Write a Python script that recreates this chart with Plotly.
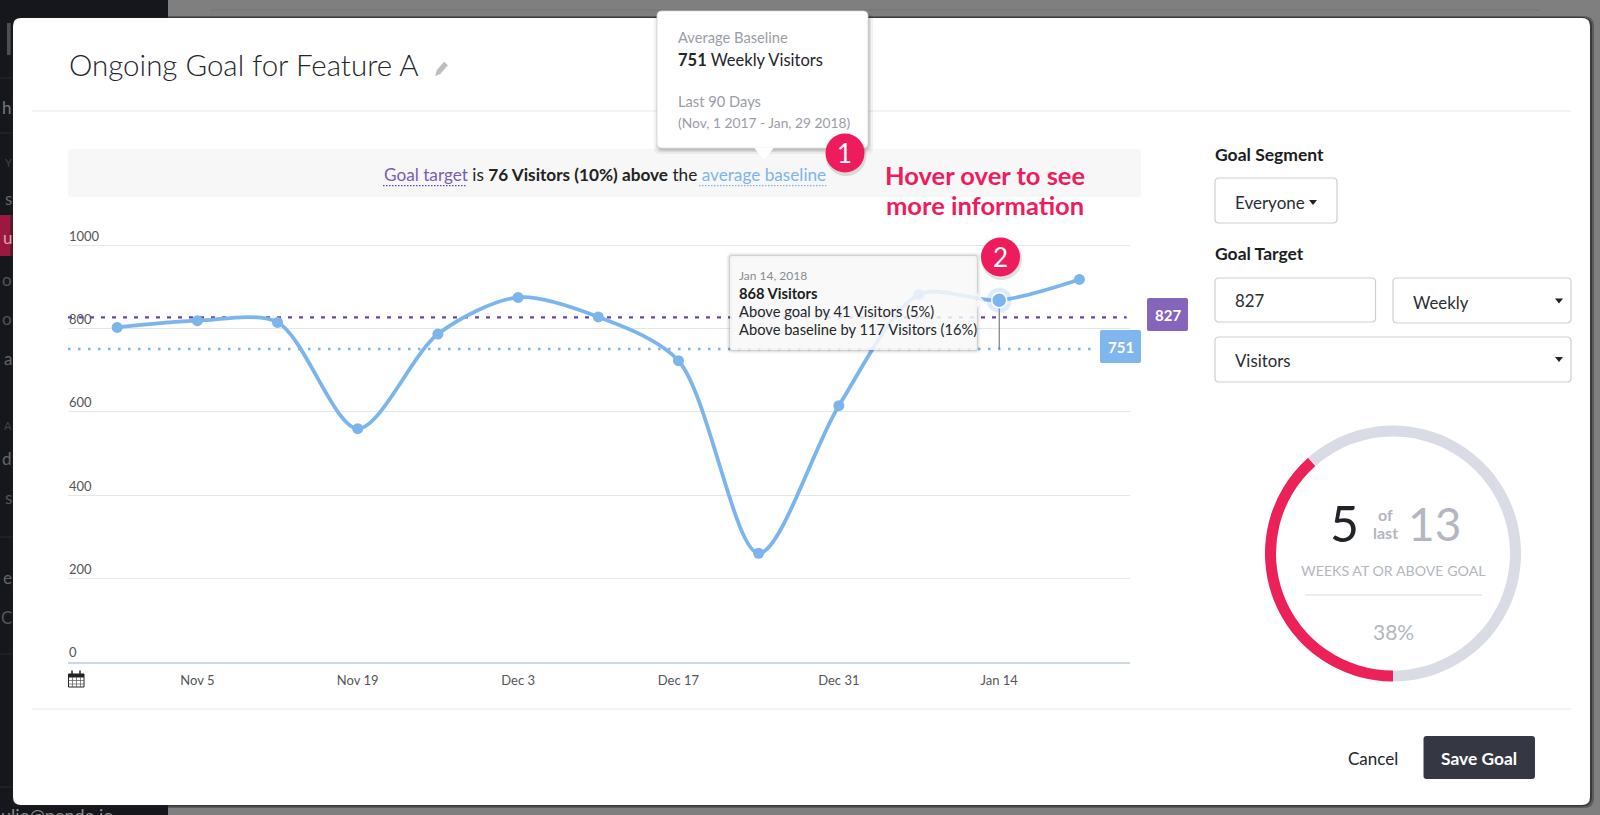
import plotly.graph_objects as go

# chart data
weeks = ["2017-10-29", "2017-11-05", "2017-11-12", "2017-11-19", "2017-11-26", "2017-12-03", "2017-12-10",
         "2017-12-17", "2017-12-24", "2017-12-31", "2018-01-07", "2018-01-14", "2018-01-21"]
visitors = [803, 819, 815, 560, 787, 875, 828, 723, 261, 615, 882, 868, 918]

goal_target = 827
avg_baseline = 751
hover_week = "2018-01-14"
hover_value = 868

x_range = ["2017-10-24 17:00", "2018-01-25 10:00"]
goal_span = ["2017-10-24 17:00", "2018-01-25 03:00"]
base_span = ["2017-10-24 17:00", "2018-01-22 05:00"]

x_tick_vals = ["2017-11-05", "2017-11-19", "2017-12-03", "2017-12-17", "2017-12-31", "2018-01-14"]
x_tick_text = ["Nov 5", "Nov 19", "Dec 3", "Dec 17", "Dec 31", "Jan 14"]
y_tick_vals = [0, 200, 400, 600, 800, 1000]

weeks_hit = [5, 8]

W = 1600
H = 815
FONT = "Lato"
BLUE = "#7cb5ec"
PURPLE = "#6a3fb5"
PINK = "#ee1c5c"
GREY_TXT = "#b4b6c0"


def px(x):
    return x / W


def py(y):
    return 1 - y / H


# rounded box as a path in paper coords, the corners done with Q
def rbox(x0, y0, x1, y1, r):
    pts = [("M", x0 + r, y0), ("L", x1 - r, y0), ("Q", x1, y0, x1, y0 + r), ("L", x1, y1 - r),
           ("Q", x1, y1, x1 - r, y1), ("L", x0 + r, y1), ("Q", x0, y1, x0, y1 - r), ("L", x0, y0 + r),
           ("Q", x0, y0, x0 + r, y0)]
    out = ""
    for p in pts:
        if p[0] == "Q":
            out += "Q%.5f,%.5f %.5f,%.5f " % (px(p[1]), py(p[2]), px(p[3]), py(p[4]))
        else:
            out += "%s%.5f,%.5f " % (p[0], px(p[1]), py(p[2]))
    return out + "Z"


def poly(points):
    out = "M" + " L".join("%.5f,%.5f" % (px(a), py(b)) for a, b in points)
    return out + " Z"


shapes = []


def box(x0, y0, x1, y1, fill, r=0, line=None, lw=1, layer="below"):
    shapes.append(dict(type="path", path=rbox(x0, y0, x1, y1, r) if r else poly([(x0, y0), (x1, y0), (x1, y1), (x0, y1)]),
                       xref="paper", yref="paper", fillcolor=fill, layer=layer,
                       line=dict(color=line if line else "rgba(0,0,0,0)", width=lw if line else 0)))


def hline(x0, x1, y, color, lw=1, layer="below", dash="solid"):
    shapes.append(dict(type="line", xref="paper", yref="paper", x0=px(x0), x1=px(x1), y0=py(y), y1=py(y),
                       line=dict(color=color, width=lw, dash=dash), layer=layer))


def seg(x0, y0, x1, y1, color, lw=1, layer="below"):
    shapes.append(dict(type="line", xref="paper", yref="paper", x0=px(x0), x1=px(x1), y0=py(y0), y1=py(y1),
                       line=dict(color=color, width=lw), layer=layer))


def circle(cx, cy, r, fill, layer="above"):
    shapes.append(dict(type="circle", xref="paper", yref="paper", x0=px(cx - r), x1=px(cx + r), y0=py(cy + r), y1=py(cy - r),
                       fillcolor=fill, line=dict(width=0), layer=layer))


annos = []


def label(x, y, text, size=14, color="#222", anchor="left", weight=None, family=FONT):
    f = dict(family=family, size=size, color=color)
    if weight:
        f["weight"] = weight
    annos.append(dict(x=px(x), y=py(y), xref="paper", yref="paper", text=text, showarrow=False,
                      xanchor=anchor, yanchor="middle", font=f, align=anchor, borderpad=0))


# page behind the modal
box(0, 0, 168, H, "#15171c")
box(168, 0, W, H, "#7f7f7f")
hline(210, 1540, 10, "#757575", 1)
box(0, 215, 14, 256, "#9c1840")
for sy in [78, 133, 537, 654, 787]:
    hline(0, 168, sy, "#2b2d33", 1)

# only the last letter of each sidebar row shows beside the modal
sidebar_bits = [("h", 107, 17, "#777"), ("Y", 163, 11, "#444"), ("s", 198, 17, "#666"), ("u", 238, 17, "#d9a3b4"),
                ("o", 279, 17, "#555"), ("o", 319, 17, "#555"), ("a", 358, 17, "#666"), ("A", 425, 11, "#444"),
                ("d", 458, 17, "#666"), ("s", 497, 17, "#555"), ("e", 577, 17, "#666"), ("C", 617, 17, "#555")]
for txt, sy, sz, col in sidebar_bits:
    label(12.5, sy, txt, sz, col, anchor="right")
box(7, 23, 11, 55, "#4f4f4f")
label(0, 815, "ulio@pendo.io", 18, "#8a8a8a")

# modal
box(10, 16, 1594, 808, "rgba(30,30,30,0.35)", r=10)
box(11.5, 17, 1592, 806.5, "rgba(30,30,30,0.55)", r=10)
box(13, 18, 1590, 805, "#ffffff", r=8)
hline(32, 1571, 111, "#e8e8ea", 1.2)
hline(32, 1571, 709, "#e8e8ea", 1.2)
label(68, 65, "Ongoing Goal for Feature A", 29.5, "#23252b", weight=300)

# pencil
seg(446, 63.5, 439, 71.5, "#bdbdbd", 5)
shapes.append(dict(type="path", path=poly([(437, 69.5), (441.5, 73.5), (435, 76)]), xref="paper", yref="paper",
                   fillcolor="#bdbdbd", line=dict(width=0), layer="below"))

# banner over the chart
box(68, 149, 1141, 197, "#f7f7f8", r=3)
label(383, 174, '<span style="color:#7a5cb8">Goal target</span> is <b>76 Visitors (10%) above</b> the '
                '<span style="color:#7cb5ec">average baseline</span>', 17.2, "#222")
hline(383, 466, 185.7, PURPLE, 1.2, dash="1.5px,1.5px")
hline(699, 827, 185.7, BLUE, 1.2, dash="1.5px,1.5px")

# end tags of the two dotted lines
box(1147, 298, 1188, 331, "#8465bb", r=2)
box(1100, 330, 1141, 363, "#7fb6ed", r=2)
label(1167.5, 315, "827", 15, "#ffffff", anchor="center", weight=700)
label(1120.5, 347, "751", 15, "#ffffff", anchor="center", weight=700)

# calendar icon
box(68.5, 674, 84, 687, "#ffffff", line="#222", lw=1)
box(68.5, 674, 84, 677.5, "#222")
for cx in [72.5, 76.5, 80.5]:
    seg(cx, 677, cx, 687, "#555", 0.7)
for cy in [680.5, 684]:
    seg(68.5, cy, 84, cy, "#555", 0.7)
for cx in [72, 80]:
    seg(cx, 670.5, cx, 675, "#222", 1.5)

# right panel
box_line = "#cfcfd2"
label(1214, 154, "Goal Segment", 17.5, "#1b1d22", weight=700)
box(1215, 178, 1337, 223, "#ffffff", r=4, line=box_line, lw=1.2)
label(1234, 202, "Everyone", 17, "#2a2c33")
label(1214, 254, "Goal Target", 17.5, "#1b1d22", weight=700)
box(1215, 278, 1375.5, 322, "#ffffff", r=4, line=box_line, lw=1.2)
box(1393, 278, 1571, 323, "#ffffff", r=4, line=box_line, lw=1.2)
box(1215, 337, 1571, 382, "#ffffff", r=4, line=box_line, lw=1.2)
label(1234, 300, "827", 16.8, "#2a2c33")
label(1412, 302, "Weekly", 16.8, "#2a2c33")
label(1234, 360, "Visitors", 16.8, "#2a2c33")
for cx, cy in [(1313, 202), (1559, 300.5), (1559, 359)]:
    shapes.append(dict(type="path", path=poly([(cx - 4, cy - 2), (cx + 4, cy - 2), (cx, cy + 3)]), xref="paper", yref="paper",
                       fillcolor="#222", line=dict(width=0), layer="below"))

# middle of the ring
label(1344, 523, "5", 50, "#20232a", anchor="center", weight=400)
label(1385, 514.5, "of", 16, GREY_TXT, anchor="center", weight=700)
label(1385, 532, "last", 16, GREY_TXT, anchor="center", weight=700)
label(1434, 523, "13", 46, GREY_TXT, anchor="center", weight=400)
label(1393, 570, "WEEKS AT OR ABOVE GOAL", 14.2, GREY_TXT, anchor="center")
hline(1305, 1482, 595, "#e4e6ec", 1.5)
label(1393, 631, "38%", 21, GREY_TXT, anchor="center")

# footer buttons
label(1372.5, 758, "Cancel", 17, "#23252b", anchor="center")
box(1423.5, 736, 1535, 779, "#353842", r=3)
label(1479, 758, "Save Goal", 17.4, "#ffffff", anchor="center", weight=700)

# popup above the banner, sits over the chart and modal edge
for off, alpha in [(5, 0.05), (3, 0.08), (1.5, 0.12)]:
    box(657 - off + 2, 11 + 2, 868 + off, 148 + off + 1, "rgba(0,0,0,%.2f)" % alpha, r=6, layer="above")
box(657, 11, 868, 148, "#ffffff", r=5, line="#d8d8d8", lw=0.8, layer="above")
shapes.append(dict(type="path", path=poly([(754, 147.6), (774, 147.6), (764, 160)]), xref="paper", yref="paper",
                   fillcolor="#ffffff", line=dict(width=0), layer="above"))
label(677, 37, "Average Baseline", 14.7, "#9a9ca6")
label(677, 60, "<b>751</b> Weekly Visitors", 16.5, "#23252b")
label(677, 101, "Last 90 Days", 14.7, "#9a9ca6")
label(677, 122, "(Nov, 1 2017 - Jan, 29 2018)", 13.8, "#9a9ca6")

# hover tooltip, the shadow is stroke only so the inside stays see-through
for lw, alpha in [(7, 0.04), (4.5, 0.06), (2, 0.09)]:
    box(730, 256, 977, 350, "rgba(0,0,0,0)", r=2, line="rgba(0,0,0,%.2f)" % alpha, lw=lw, layer="above")
box(730, 256, 977, 350, "rgba(248,248,248,0.86)", r=2, layer="above")
shapes.append(dict(type="path", path=poly([(977, 293), (984, 300.7), (977, 308)]), xref="paper", yref="paper",
                   fillcolor="rgba(248,248,248,0.86)", line=dict(width=0), layer="above"))
label(738, 275, "Jan 14, 2018", 12, "#888a92")
label(738, 293, "<b>868 Visitors</b>", 14.7, "#1b1d22")
label(738, 311, "Above goal by 41 Visitors (5%)", 14.7, "#23252b")
label(738, 329, "Above baseline by 117 Visitors (16%)", 14.7, "#23252b")

# numbered badges and the call-out
for bx, by, n in [(845, 153, "1"), (1000.5, 257, "2")]:
    circle(bx + 1, by + 2.5, 20.5, "rgba(0,0,0,0.12)")
    circle(bx, by, 19.5, PINK)
    label(bx, by, n, 26, "#ffffff", anchor="center")
label(985, 175, "Hover over to see", 25.5, PINK, anchor="center", weight=700)
label(985, 205, "more information", 25.5, PINK, anchor="center", weight=700)

fig = go.Figure()

fig.add_trace(go.Scatter(x=base_span, y=[avg_baseline, avg_baseline], mode="lines",
                         line=dict(color=BLUE, width=2.5, dash="2.5px,7.5px")))
fig.add_trace(go.Scatter(x=goal_span, y=[goal_target, goal_target], mode="lines",
                         line=dict(color=PURPLE, width=2.2, dash="4px,7px")))
fig.add_trace(go.Scatter(x=weeks, y=visitors, mode="lines+markers",
                         line=dict(color=BLUE, width=3.8, shape="spline", smoothing=0.85),
                         marker=dict(color=BLUE, size=11)))
fig.add_trace(go.Scatter(x=[hover_week, hover_week], y=[hover_value, avg_baseline], mode="lines",
                         line=dict(color="#666666", width=1)))
fig.add_trace(go.Scatter(x=[hover_week], y=[hover_value], mode="markers",
                         marker=dict(color=BLUE, size=25, opacity=0.25)))
fig.add_trace(go.Scatter(x=[hover_week], y=[hover_value], mode="markers",
                         marker=dict(color=BLUE, size=15, line=dict(color="#ffffff", width=1.5))))

fig.add_trace(go.Pie(values=weeks_hit, labels=["At or above goal", "Below goal"], hole=0.914, sort=False, rotation=180,
                     direction="clockwise", textinfo="none", marker=dict(colors=["#ec2158", "#d9dbe5"], line=dict(width=0)),
                     domain=dict(x=[px(1265), px(1521)], y=[py(682), py(425)])))

fig.update_layout(
    width=W, height=H, margin=dict(l=0, r=0, t=0, b=0), showlegend=False,
    paper_bgcolor="#7f7f7f", plot_bgcolor="rgba(0,0,0,0)",
    font=dict(family=FONT, color="#555"),
    xaxis=dict(domain=[px(68), px(1130)], range=x_range, type="date", tickmode="array", tickvals=x_tick_vals,
               ticktext=x_tick_text, showgrid=False, showline=True, linecolor="#ccd6eb", linewidth=2, ticks="",
               ticklabelstandoff=5, tickfont=dict(size=13, color="#555")),
    # range runs past 1000 so the top label, which sits above its gridline, is not dropped
    yaxis=dict(domain=[py(662), py(224.45)], range=[0, 1050], tickmode="array", tickvals=y_tick_vals, gridcolor="#e6e6e6",
               gridwidth=1.3, zeroline=False, showline=False, ticks="", ticklabelposition="inside top",
               ticklabelstandoff=-2, tickfont=dict(size=13, color="#555")),
    shapes=shapes, annotations=annos,
)

fig.write_html("out.html", config={"displayModeBar": False}, post_script="document.body.style.margin='0';")
